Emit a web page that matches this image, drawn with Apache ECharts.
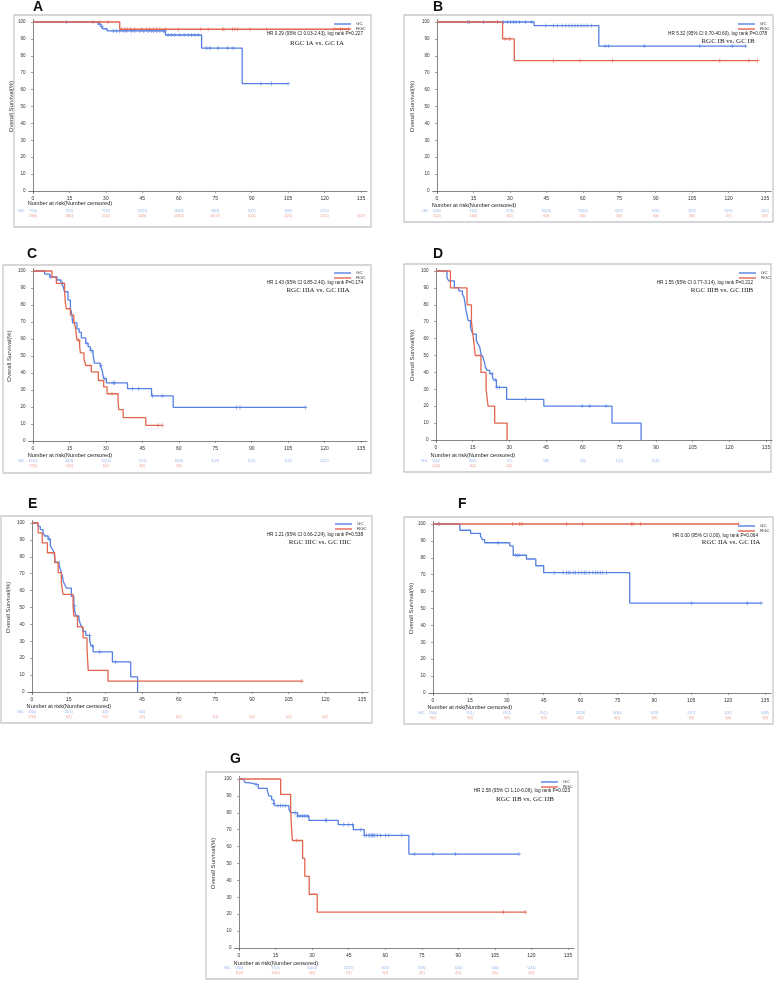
<!DOCTYPE html>
<html><head><meta charset="utf-8">
<script src="https://cdn.jsdelivr.net/npm/echarts@6/dist/echarts.min.js"></script>
<style>html,body{margin:0;padding:0;background:#fff}#c{width:777px;height:982px}</style>
</head><body><div id="c"></div>
<script>
// ---------------- DATA ----------------
const xTicks = [0, 15, 30, 45, 60, 75, 90, 105, 120, 135];
const yTicks = [0, 10, 20, 30, 40, 50, 60, 70, 80, 90, 100];
const groups = ['GC', 'RGC'];

// Panel A
const A_GC = [[0,100],[26.8,98.7],[28,97.4],[28.8,96],[30.5,94.7],[54.5,92.3],[69.4,84.6],[86.1,63.5],[105,63.5]];
const A_GC_cens = [13.7,27.2,28.4,33,34.3,35.7,37.4,38.5,40.5,41.9,44,45.6,47.4,48.8,49.7,50.8,52.2,53.6,54.3,55.6,57,58.4,60.4,62.2,63.9,65.2,66.6,68,71.4,72.8,76.2,80,82.4,93.8,98.2,105];
const A_RGC = [[0,100],[35.7,95.7],[129.8,95.7]];
const A_RGC_cens = [24.7,27.5,30.9,36.4,37.8,38.9,40.2,41.9,44.6,46.7,48.1,49.5,50.8,52.2,54.5,59.8,69.1,72.1,78,78.6,82.1,83.1,84.1,89.3,96.2,123.6,126.5,129.8];
const A_GC_risk = ['77(0)','76(1)','72(3)','52(23)','28(45)','8(63)','3(67)','1(69)','0(70)'];
const A_RGC_risk = ['28(0)','28(0)','25(2)','20(6)','13(13)','10(17)','5(24)','2(25)','2(25)','0(27)'];
const A_HR = 'HR 0.29 (95% CI 0.03-2.43), log rank P=0.227';
const A_CMP = 'RGC IA vs. GC IA';

// Panel B
const B_GC = [[0,100],[40,97.8],[66.6,85.7],[127,85.7]];
const B_GC_cens = [12.7,13.3,19.2,27.4,29,30.3,31.5,32.5,34,36.5,39,44.8,48,49.5,51.5,53,54.3,55.5,56.8,58,59.3,60.5,61.8,63.5,69.2,70.5,85.3,108.2,121.5,127];
const B_RGC = [[0,100],[27,90],[31.8,77.1],[131.9,77.1]];
const B_RGC_cens = [24.9,28,29.9,47.9,58.9,72.3,116.4,128.4,131.9];
const B_GC_risk = ['63(0)','61(2)','57(6)','45(20)','13(52)','6(57)','3(59)','3(59)','3(59)','0(61)'];
const B_RGC_risk = ['11(0)','11(0)','8(2)','6(3)','4(5)','3(6)','3(6)','3(6)','2(7)','0(9)'];
const B_HR = 'HR 5.32 (95% CI 0.70-40.60), log rank P=0.078';
const B_CMP = 'RGC IB vs. GC IB';

// Panel C
const C_GC = [[0,100],[4.8,98.2],[6.9,96.5],[9.9,94.7],[11.5,93],[12.3,91.2],[13,87.8],[14.4,82.9],[15.4,78],[16,74.5],[16.3,69.5],[18.1,65.9],[19,63.9],[19.9,60.7],[21.7,57.4],[22.7,55.5],[23.6,53.2],[24.7,51],[25.3,45.8],[27.7,44.2],[28.4,41.7],[29.1,36.7],[30.2,34.2],[38.9,30.8],[48.8,26.5],[57.7,19.8],[112.2,19.8]];
const C_GC_cens = [7.2,12.1,22.2,24,28,29.6,33,33.6,41,43.5,49.2,53.2,83.8,85.2,112.2];
const C_RGC = [[0,100],[7.8,96.3],[9.6,92.7],[13,88.9],[13.3,81.5],[13.7,77.8],[15.4,74],[16.8,70.4],[17.5,66.7],[17.8,63],[18.1,59.3],[19.2,55.5],[19.5,51.8],[21,48.1],[21.7,44.4],[24,40.7],[26.9,35.6],[29.1,31.8],[30.5,27.8],[35,23.6],[35.3,18.5],[37.1,13.7],[46.4,9.2],[53.2,9.2]];
const C_RGC_cens = [18.8,32.5,51.5,53.2];
const C_GC_risk = ['61(0)','48(3)','14(13)','7(17)','6(18)','3(19)','1(21)','1(21)','0(22)'];
const C_RGC_risk = ['27(0)','21(0)','6(1)','3(2)','0(3)'];
const C_HR = 'HR 1.43 (95% CI 0.85-2.40), log rank P=0.174';
const C_CMP = 'RGC IIIA vs. GC IIIA';

// Panel D
const D_GC = [[0,100],[4.5,96.1],[5.2,94.1],[7.5,90.2],[9.3,88.2],[10.8,86.3],[11.5,84.3],[11.9,80.4],[12.3,76.5],[12.6,74.5],[13.2,70.6],[14.1,66.7],[14.5,64.7],[15.1,62.7],[16.5,58.8],[17.2,56.9],[17.9,54.9],[18.4,51],[19.2,49],[19.6,47],[20,45.1],[20.2,43.1],[20.9,41.2],[22,39.2],[23.1,37.3],[23.5,35.6],[24.7,31.1],[28.9,24],[44.1,20],[72,10],[83.9,0]];
const D_GC_cens = [23,24.2,25,26,36.6,59.8,62.9,69.6];
const D_RGC = [[0,100],[5.9,90],[12.7,80],[14.5,70],[15.3,60],[16.1,50],[18.4,40],[20.5,30],[21.3,20],[24,10],[29.1,0]];
const D_RGC_cens = [];
const D_GC_risk = ['50(0)','32(0)','7(7)','5(8)','4(9)','1(11)','0(11)'];
const D_RGC_risk = ['10(0)','6(0)','0(0)'];
const D_HR = 'HR 1.55 (95% CI 0.77-3.14), log rank P=0.212';
const D_CMP = 'RGC IIIB vs. GC IIIB';

// Panel E
const E_GC = [[0,100],[2.5,98],[3.4,96.1],[4.5,94.2],[5.2,92.3],[6.6,90.4],[7.5,86.5],[8.3,84.6],[9,82.7],[9.5,76.9],[11.1,75],[11.5,73.1],[12.3,69.2],[12.6,67.3],[12.8,65.4],[13.4,63.5],[14.1,61.5],[16.1,56.6],[17.1,51],[17.6,47],[18.1,45],[19.2,43.2],[19.8,40],[20.6,38],[21,35.8],[22,33.5],[23.6,30.7],[24.1,27.3],[25,23.8],[32.9,17.8],[40.4,8.9],[43.2,0]];
const E_GC_cens = [7,17.5,23.5,24.7,27.7,34.2];
const E_RGC = [[0,100],[2.5,94.1],[4.2,88.2],[6.3,82.4],[9.3,76.5],[10.7,70.6],[12,64.7],[12.7,57.8],[16.8,51.3],[17.1,44.9],[18.6,38.5],[20.9,32],[22.5,25.6],[23,12.8],[31.1,6.4],[110.4,6.4]];
const E_RGC_cens = [110.4];
const E_GC_risk = ['42(0)','25(1)','4(3)','0(5)'];
const E_RGC_risk = ['17(0)','9(1)','2(1)','1(1)','1(1)','1(1)','1(1)','1(1)','0(2)'];
const E_HR = 'HR 1.21 (95% CI 0.66-2.24), log rank P=0.538';
const E_CMP = 'RGC IIIC vs. GC IIIC';

// Panel F
const F_GC = [[0,100],[10.9,96.3],[15.3,94.5],[19.3,92.7],[20.1,90.8],[21,88.9],[31.2,87],[32.6,81.5],[38,79.3],[41.8,75.3],[45,71.2],[80,53.2],[133.4,53.2]];
const F_GC_cens = [2.4,26.5,33.6,34.3,35,49.3,52.9,54.3,55,55.7,57,58,59.3,60.5,61.5,62.2,63.5,65,66,67,68,69,70.5,105.2,127.8,133.4];
const F_RGC = [[0,100],[124.2,100]];
const F_RGC_cens = [2.4,32.3,35.3,36.2,54.3,60.8,80.7,81.4,84.4,124.2];
const F_GC_risk = ['55(0)','51(1)','45(3)','35(5)','22(18)','6(30)','3(33)','2(37)','2(37)','0(38)'];
const F_RGC_risk = ['9(0)','9(0)','9(0)','6(3)','4(5)','4(5)','1(8)','1(8)','1(8)','0(9)'];
const F_HR = 'HR 0.00 (95% CI 0.00), log rank P=0.064';
const F_CMP = 'RGC IIA vs. GC IIA';

// Panel G
const G_GC = [[0,100],[1.8,98.9],[2.5,97.8],[4,96.7],[7.9,94.5],[11.6,93.3],[12.3,89.9],[13.4,87.6],[14.3,85.4],[14.8,84.2],[20.5,81.9],[21.2,80.1],[24,78.1],[28.7,75.5],[40.7,73],[46.9,70],[51.4,66.7],[69.7,55.6],[114.9,55.6]];
const G_GC_cens = [7,14.3,16,17,18,19,23,24,25,26,27,28,35.5,36,43,45,46.5,50,51.5,52.3,53.3,53.7,54.4,54.8,55.3,55.7,56.7,58.1,60.1,61.5,66.8,72.1,79.6,88.8,114.9];
const G_RGC = [[0,100],[17.1,90.9],[21.2,81.8],[21.5,72.7],[21.9,63.6],[26.1,53],[27,42.4],[28.8,31.8],[32.1,21.2],[117.5,21.2]];
const G_RGC_cens = [23.6,108.6,117.5];
const G_GC_risk = ['58(0)','47(3)','31(14)','22(19)','9(31)','3(36)','1(40)','1(40)','0(41)'];
const G_RGC_risk = ['11(0)','10(0)','3(1)','2(1)','2(1)','2(1)','2(1)','2(1)','0(3)'];
const G_HR = 'HR 2.58 (95% CI 1.10-6.06), log rank P=0.023';
const G_CMP = 'RGC IIB vs. GC IIB';

// ---------------- LAYOUT ----------------
const panels = [
  {id:'A', gc:A_GC, gcC:A_GC_cens, rgc:A_RGC, rgcC:A_RGC_cens, gcR:A_GC_risk, rgcR:A_RGC_risk, hr:A_HR, cmp:A_CMP,
   L:{x0:33,x135:361,y100:22,y0:191, box:[14,15,371,227], letter:[33,11], head:203, rGC:211, rRGC:216, ng:14, hrDx:2, cmpDx:-44, cmpDy:21, legDy:2}},
  {id:'B', gc:B_GC, gcC:B_GC_cens, rgc:B_RGC, rgcC:B_RGC_cens, gcR:B_GC_risk, rgcR:B_RGC_risk, hr:B_HR, cmp:B_CMP,
   L:{x0:437,x135:765,y100:22,y0:191, box:[404,15,773,222], letter:[433,11], head:205, rGC:211, rRGC:216, ng:17, hrDx:2, cmpDx:-37, cmpDy:19, legDy:2}},
  {id:'C', gc:C_GC, gcC:C_GC_cens, rgc:C_RGC, rgcC:C_RGC_cens, gcR:C_GC_risk, rgcR:C_RGC_risk, hr:C_HR, cmp:C_CMP,
   L:{x0:33,x135:361,y100:271,y0:441, box:[3,265,371,473], letter:[27,258], head:455, rGC:461, rRGC:466, ng:16, hrDx:2, cmpDx:-43, cmpDy:19, legDy:2}},
  {id:'D', gc:D_GC, gcC:D_GC_cens, rgc:D_RGC, rgcC:D_RGC_cens, gcR:D_GC_risk, rgcR:D_RGC_risk, hr:D_HR, cmp:D_CMP,
   L:{x0:436,x135:766,y100:271,y0:440, box:[404,264,771,472], letter:[433,258], head:455, rGC:461, rRGC:466, ng:16, hrDx:-13, cmpDx:-44, cmpDy:19, legDy:2}},
  {id:'E', gc:E_GC, gcC:E_GC_cens, rgc:E_RGC, rgcC:E_RGC_cens, gcR:E_GC_risk, rgcR:E_RGC_risk, hr:E_HR, cmp:E_CMP,
   L:{x0:32,x135:362,y100:523,y0:692, box:[1,516,372,723], letter:[28,508], head:706, rGC:712, rRGC:717, ng:16, hrDx:1, cmpDx:-42, cmpDy:19, legDy:1}},
  {id:'F', gc:F_GC, gcC:F_GC_cens, rgc:F_RGC, rgcC:F_RGC_cens, gcR:F_GC_risk, rgcR:F_RGC_risk, hr:F_HR, cmp:F_CMP,
   L:{x0:433,x135:765,y100:524,y0:693, box:[404,517,773,724], letter:[458,508], head:707, rGC:713, rRGC:718, ng:14, hrDx:-7, cmpDx:-34, cmpDy:18, legDy:2}},
  {id:'G', gc:G_GC, gcC:G_GC_cens, rgc:G_RGC, rgcC:G_RGC_cens, gcR:G_GC_risk, rgcR:G_RGC_risk, hr:G_HR, cmp:G_CMP,
   L:{x0:239,x135:568,y100:779,y0:948, box:[206,772,578,979], letter:[230,763], head:963, rGC:968, rRGC:973, ng:18, hrDx:2, cmpDx:-43, cmpDy:20, legDy:3}}
];

const COL = {GC:'#5580e4', RGC:'#e2654f', GCt:'#7fa2ea', RGCt:'#e57f6e'};
const XMIN = -1.8, XMAX = 137.5, YMIN = -1.5, YMAX = 101.5;
const PLUS = 'path://M-0.35,-2H0.35V-0.35H2V0.35H0.35V2H-0.35V0.35H-2V-0.35H-0.35Z';
const SANS = 'Liberation Sans';

function survAt(steps, t) {
  let s = steps[0][1];
  for (const p of steps) { if (p[0] <= t) s = p[1]; else break; }
  return s;
}

const grid = [], xAxis = [], yAxis = [], series = [], legend = [], graphic = [];

panels.forEach((p, i) => {
  const L = p.L;
  const ppx = (L.x135 - L.x0) / 135, ppy = (L.y0 - L.y100) / 100;
  const left = L.x0 + XMIN * ppx, right = L.x0 + XMAX * ppx;
  const top = L.y100 - (YMAX - 100) * ppy, bottom = L.y0 - YMIN * ppy;
  const gi = 2 * i;
  grid.push({left: left, top: top, width: right - left, height: bottom - top});
  const rH = (L.rRGC - L.rGC) * 2;
  grid.push({left: left, top: L.rGC - rH / 4, width: right - left, height: rH});

  xAxis.push({type:'value', gridIndex: gi, min: XMIN, max: XMAX,
    axisLine:{show:true, lineStyle:{color:'#666', width:0.8}},
    axisTick:{show:true, length:2, customValues: xTicks, lineStyle:{color:'#666', width:0.6}},
    axisLabel:{customValues: xTicks, fontSize:5, color:'#333', margin:3, fontFamily: SANS},
    splitLine:{show:false}});
  xAxis.push({type:'value', gridIndex: gi + 1, min: XMIN, max: XMAX, show:false});

  yAxis.push({type:'value', gridIndex: gi, min: YMIN, max: YMAX,
    name:'Overall Survival(%)', nameLocation:'middle', nameRotate:90, nameGap: L.ng,
    nameTextStyle:{fontSize:6, color:'#333', fontFamily: SANS},
    axisLine:{show:true, lineStyle:{color:'#666', width:0.8}},
    axisTick:{show:true, length:2, customValues: yTicks, lineStyle:{color:'#666', width:0.6}},
    axisLabel:{customValues: yTicks, fontSize:4.6, color:'#333', margin:3, fontFamily: SANS},
    splitLine:{show:false}});
  yAxis.push({type:'category', gridIndex: gi + 1, data: groups, inverse:true,
    axisLine:{show:false}, axisTick:{show:false},
    axisLabel:{margin:4, fontSize:4.2, fontFamily: SANS,
      formatter: v => (v === 'GC' ? '{g|GC}' : '{r|RGC}'),
      rich:{g:{color: COL.GCt, fontSize:4.2, fontFamily: SANS}, r:{color: COL.RGCt, fontSize:4.2, fontFamily: SANS}}}});

  const mk = (name, steps, cens) => {
    series.push({name: name, type:'line', step:'end', xAxisIndex: gi, yAxisIndex: gi,
      data: steps, showSymbol:false, symbol:'none', silent:true,
      lineStyle:{color: COL[name], width:1.3}, itemStyle:{color: COL[name]}});
    series.push({name: name + '-cens', type:'scatter', xAxisIndex: gi, yAxisIndex: gi,
      data: cens.map(t => [t, survAt(steps, t)]), symbol: PLUS, symbolSize: 4.2, silent:true,
      itemStyle:{color: COL[name]}});
  };
  mk('GC', p.gc, p.gcC);
  mk('RGC', p.rgc, p.rgcC);

  const riskData = [];
  p.gcR.forEach((s, j) => riskData.push({value:[xTicks[j], 'GC', s], label:{color: COL.GCt}}));
  p.rgcR.forEach((s, j) => riskData.push({value:[xTicks[j], 'RGC', s], label:{color: COL.RGCt}}));
  series.push({name:'risk', type:'scatter', xAxisIndex: gi + 1, yAxisIndex: gi + 1,
    data: riskData, symbolSize: 0.01, silent:true, itemStyle:{color:'transparent'},
    label:{show:true, position:'inside', formatter: q => q.value[2], fontSize:3.4, fontFamily: SANS}});

  legend.push({data:['GC','RGC'], orient:'vertical', left: L.x135 - 27, top: L.y100 + L.legDy - 2.5,
    itemWidth:17, itemHeight:1.4, icon:'rect', itemGap:0, padding:0, selectedMode:false,
    textStyle:{fontSize:4.4, lineHeight:5, color:'#333', fontFamily: SANS}});

  const b = L.box;
  graphic.push({type:'rect', shape:{x:b[0], y:b[1], width:b[2]-b[0], height:b[3]-b[1]},
    style:{fill:'none', stroke:'#c9c9c9', lineWidth:1.3}, silent:true});
  graphic.push({type:'text', x: L.letter[0], y: L.letter[1] + 3,
    style:{text: p.id, fontSize:14, fontWeight:'bold', fontFamily: SANS, fill:'#111', verticalAlign:'bottom', align:'left'}, silent:true});
  graphic.push({type:'text', x: left - 1, y: L.head,
    style:{text:'Number at risk(Number censored)', fontSize:5.6, fontFamily: SANS, fill:'#222', verticalAlign:'middle', align:'left'}, silent:true});
  graphic.push({type:'text', x: L.x135 + L.hrDx, y: L.y100 + 12,
    style:{text: p.hr, fontSize:4.7, fontFamily: SANS, fill:'#222', verticalAlign:'middle', align:'right'}, silent:true});
  graphic.push({type:'text', x: L.x135 + L.cmpDx, y: L.y100 + L.cmpDy,
    style:{text: p.cmp, fontSize:7, fontFamily:'Liberation Serif', fill:'#222', verticalAlign:'middle', align:'center'}, silent:true});
});

const chart = echarts.init(document.getElementById('c'), null, {renderer:'canvas'});
chart.setOption({animation:false, backgroundColor:'#fff', grid, xAxis, yAxis, series, legend, graphic});
</script>
</body></html>
